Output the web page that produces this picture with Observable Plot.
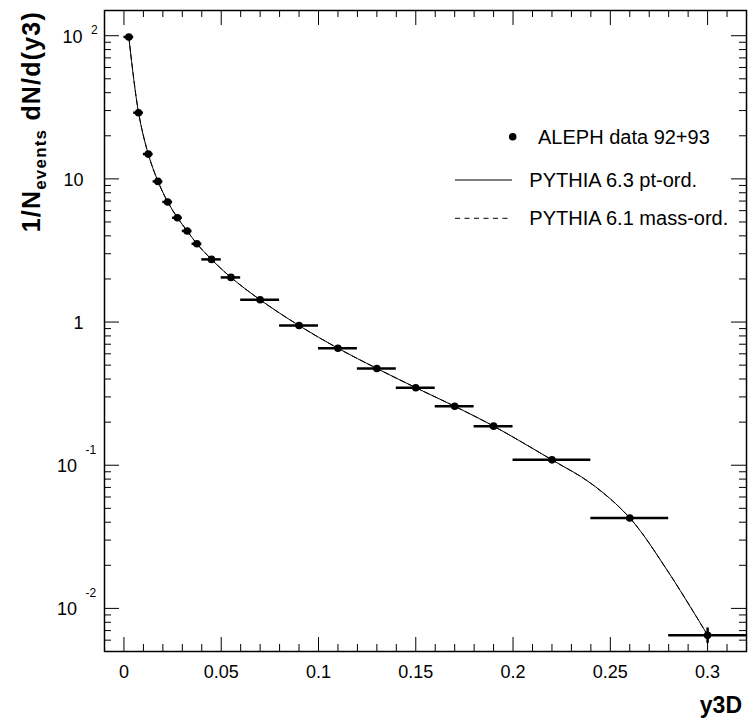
<!DOCTYPE html>
<html><head><meta charset="utf-8">
<script src="https://cdn.jsdelivr.net/npm/d3@7"></script>
<script src="https://cdn.jsdelivr.net/npm/@observablehq/plot@0.6"></script>
<style>
body{margin:0;background:#fff;}
#chart{position:relative;width:751px;height:718px;}
svg{font-family:"Liberation Sans",Arial,sans-serif;}
</style></head><body><div id="chart"></div>
<script>
// ---- data ----
const binLo = [0, 0.005, 0.01, 0.015, 0.02, 0.025, 0.03, 0.035, 0.04, 0.05, 0.06, 0.08, 0.10, 0.12, 0.14, 0.16, 0.18, 0.20, 0.24, 0.28];
const binHi = [0.005, 0.01, 0.015, 0.02, 0.025, 0.03, 0.035, 0.04, 0.05, 0.06, 0.08, 0.10, 0.12, 0.14, 0.16, 0.18, 0.20, 0.24, 0.28, 0.32];
const y3Center = [0.0025, 0.0075, 0.0125, 0.0175, 0.0225, 0.0275, 0.0325, 0.0375, 0.045, 0.055, 0.07, 0.09, 0.11, 0.13, 0.15, 0.17, 0.19, 0.22, 0.26, 0.30];
const alephData = [98, 29, 14.9, 9.6, 6.9, 5.35, 4.33, 3.52, 2.74, 2.05, 1.43, 0.945, 0.656, 0.474, 0.348, 0.258, 0.1875, 0.109, 0.0428, 0.0065];
const alephErr = [1.2, 0.4, 0.2, 0.13, 0.1, 0.08, 0.06, 0.05, 0.03, 0.025, 0.015, 0.01, 0.008, 0.006, 0.005, 0.004, 0.003, 0.002, 0.001, 0.0008];
const modelX = [0.0025, 0.0075, 0.0125, 0.0175, 0.0225, 0.0275, 0.0325, 0.0375, 0.045, 0.055, 0.07, 0.09, 0.11, 0.13, 0.15, 0.17, 0.19, 0.22, 0.24, 0.26, 0.28, 0.30];
const pythia63 = [98, 29, 14.9, 9.6, 6.9, 5.35, 4.33, 3.52, 2.74, 2.05, 1.43, 0.945, 0.656, 0.474, 0.348, 0.258, 0.1875, 0.109, 0.0748, 0.0428, 0.0178, 0.0065];
const pythia61 = [98, 29.1, 14.9, 9.6, 6.9, 5.35, 4.32, 3.52, 2.74, 2.05, 1.43, 0.945, 0.656, 0.474, 0.348, 0.258, 0.1875, 0.109, 0.0746, 0.0428, 0.0178, 0.0065];
const xMajorTicks = [0, 0.05, 0.1, 0.15, 0.2, 0.25, 0.3];
const xTickLabels = ["0", "0.05", "0.1", "0.15", "0.2", "0.25", "0.3"];
const yDecades = [0.01, 0.1, 1, 10, 100];
const yTickBase = ["10", "10", "1", "10", "10"];
const yTickExp = ["-2", "-1", "", "", "2"];
const legendLabels = ["ALEPH data 92+93", "PYTHIA 6.3 pt-ord.", "PYTHIA 6.1 mass-ord."];
const xTitle = "y3D";

// ---- build ----
const W = 751, H = 718, mL = 104, mR = 5, mT = 10, mB = 67;
const innerW = W - mL - mR, innerH = H - mT - mB;
const xDomain = [-0.01, 0.32], yDomain = [0.005, 150];

const points = y3Center.map((x, i) => ({x, lo: binLo[i], hi: binHi[i], y: alephData[i], e: alephErr[i]}));
const curve63 = modelX.map((x, i) => ({x, y: pythia63[i]}));
const curve61 = modelX.map((x, i) => ({x, y: pythia61[i]}));

const xMinor = d3.range(0, 33).map(i => i / 100).filter(v => Math.abs(v * 20 - Math.round(v * 20)) > 1e-6 && v <= xDomain[1]);
const yMinor = [];
[0.001, 0.01, 0.1, 1, 10, 100].forEach(d => { for (let k = 2; k <= 9; k++) { const v = d * k; if (v >= yDomain[0] && v <= yDomain[1]) yMinor.push(v); } });
const yLab = yDecades.map((v, i) => ({v, base: yTickBase[i], exp: yTickExp[i]}));

const bigT = 15, smallT = 7;
const plot = Plot.plot({
  width: W, height: H,
  marginLeft: mL, marginRight: mR, marginTop: mT, marginBottom: mB,
  style: {fontFamily: '"Liberation Sans", Arial, sans-serif', background: "white"},
  x: {domain: xDomain, axis: null},
  y: {type: "log", domain: yDomain, axis: null},
  marks: [
    // ticks
    Plot.ruleX(xMajorTicks, {x: d => d, insetTop: innerH - 14, stroke: "black"}),
    Plot.ruleX(xMinor, {x: d => d, insetTop: innerH - smallT, stroke: "black"}),
    Plot.ruleX(xMajorTicks, {x: d => d, insetBottom: innerH - bigT, stroke: "black"}),
    Plot.ruleX(xMinor, {x: d => d, insetBottom: innerH - smallT, stroke: "black"}),
    Plot.ruleY(yDecades, {y: d => d, insetRight: innerW - bigT, stroke: "black"}),
    Plot.ruleY(yMinor, {y: d => d, insetRight: innerW - smallT, stroke: "black"}),
    Plot.ruleY(yDecades, {y: d => d, insetLeft: innerW - bigT, stroke: "black"}),
    Plot.ruleY(yMinor, {y: d => d, insetLeft: innerW - smallT, stroke: "black"}),
    // tick labels
    Plot.text(xMajorTicks, {x: d => d, frameAnchor: "bottom", dy: 26, text: (d, i) => xTickLabels[i], fontSize: 18, fill: "black"}),
    Plot.text(yLab.filter(d => d.exp === ""), {y: "v", frameAnchor: "left", dx: -21, textAnchor: "end", text: "base", fontSize: 18, fill: "black", dy: 1}),
    Plot.text(yLab.filter(d => d.exp !== "" && !d.exp.startsWith("-")), {y: "v", frameAnchor: "left", dx: -22, textAnchor: "end", text: "base", fontSize: 18, fill: "black", dy: 2}),
    Plot.text(yLab.filter(d => d.exp !== "" && !d.exp.startsWith("-")), {y: "v", frameAnchor: "left", dx: -13.5, textAnchor: "start", text: "exp", fontSize: 12, fill: "black", dy: -6}),
    Plot.text(yLab.filter(d => d.exp.startsWith("-")), {y: "v", frameAnchor: "left", dx: -27.5, textAnchor: "end", text: "base", fontSize: 18, fill: "black", dy: 1}),
    Plot.text(yLab.filter(d => d.exp.startsWith("-")), {y: "v", frameAnchor: "left", dx: -19, textAnchor: "start", text: "exp", fontSize: 12, fill: "black", dy: -15}),
    // model curves
    Plot.line(curve61, {x: "x", y: "y", curve: "catmull-rom", stroke: "black", strokeWidth: 1, strokeDasharray: "5,4"}),
    Plot.line(curve63, {x: "x", y: "y", curve: "catmull-rom", stroke: "black", strokeWidth: 1}),
    // data
    Plot.ruleY(points, {x1: "lo", x2: "hi", y: "y", stroke: "black", strokeWidth: 2.5}),
    Plot.ruleX(points, {x: "x", y1: d => d.y - d.e, y2: d => d.y + d.e, stroke: "black", strokeWidth: 2.5}),
    Plot.dot(points, {x: "x", y: "y", r: 3.8, fill: "black", stroke: null}),
    Plot.frame({stroke: "black", strokeWidth: 1.5})
  ]
});
document.getElementById("chart").appendChild(plot);

// titles and legend
const svg = d3.select(plot);
const yt = svg.append("text").attr("transform", "translate(40,11) rotate(-90)")
  .attr("text-anchor", "end").attr("font-weight", "bold").attr("font-size", 25)
  .attr("letter-spacing", 1.2).attr("fill", "black");
yt.append("tspan").text("1/N");
yt.append("tspan").attr("font-size", 17).attr("dy", 6).text("events");
yt.append("tspan").attr("dy", -6).text(" dN/d(y3)");
svg.append("text").attr("x", 742).attr("y", 713).attr("text-anchor", "end")
  .attr("font-weight", "bold").attr("font-size", 23).attr("fill", "black").text(xTitle);

const lg = svg.append("g").attr("text-anchor", "start");
lg.append("circle").attr("cx", 512.7).attr("cy", 136.7).attr("r", 3.8).attr("fill", "black");
lg.append("text").attr("x", 538).attr("y", 144).attr("text-anchor", "start").attr("font-size", 20).attr("fill", "black").text(legendLabels[0]);
lg.append("line").attr("x1", 455).attr("x2", 512).attr("y1", 180).attr("y2", 180).attr("stroke", "black").attr("stroke-width", 1);
lg.append("text").attr("x", 529.3).attr("y", 187).attr("text-anchor", "start").attr("font-size", 20).attr("fill", "black").text(legendLabels[1]);
lg.append("line").attr("x1", 455).attr("x2", 512).attr("y1", 218.3).attr("y2", 218.3).attr("stroke", "black").attr("stroke-width", 1).attr("stroke-dasharray", "5,4.5");
lg.append("text").attr("x", 529.3).attr("y", 225).attr("text-anchor", "start").attr("font-size", 20).attr("fill", "black").text(legendLabels[2]);
</script></body></html>
